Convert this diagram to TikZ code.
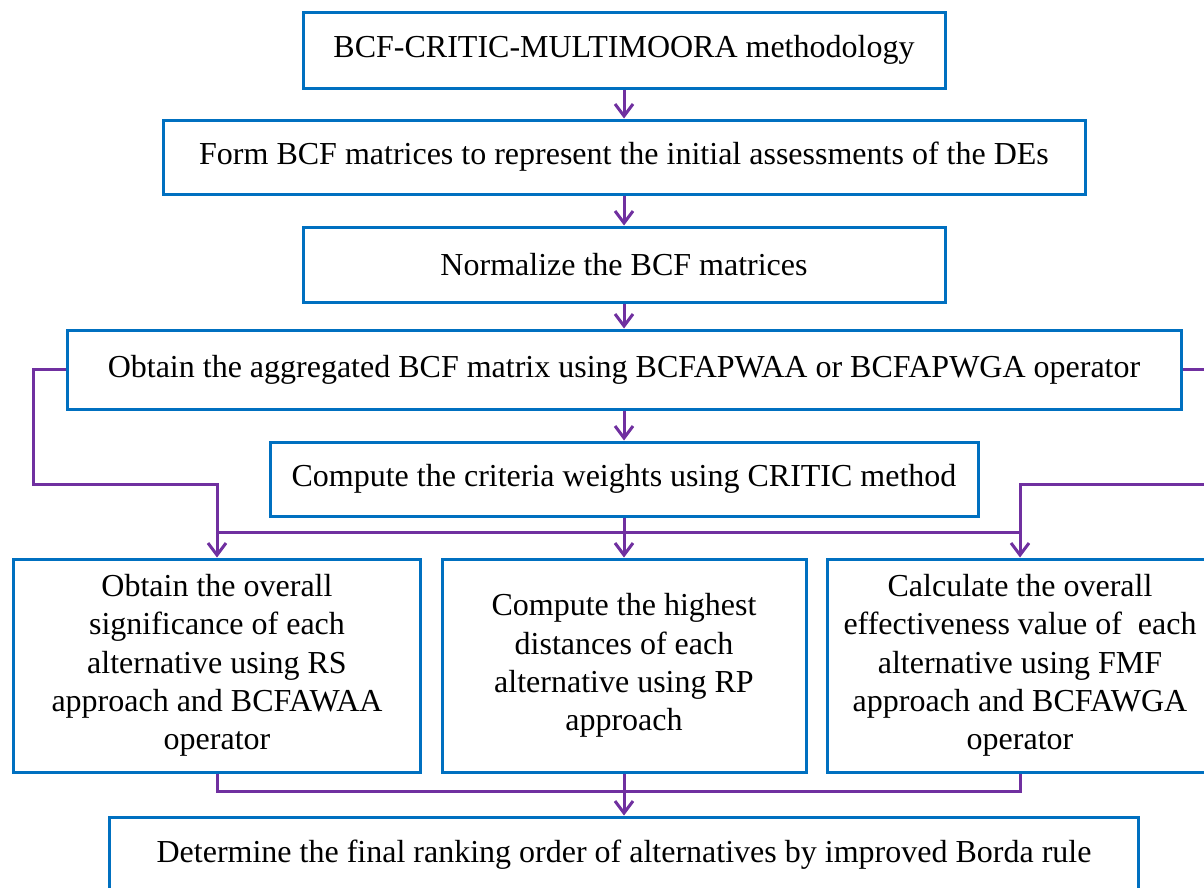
\documentclass[tikz,border=0pt]{standalone}
\usepackage{fontspec}
\setmainfont{Liberation Serif}
\usetikzlibrary{arrows.meta}
\definecolor{boxblue}{HTML}{0070C0}
\definecolor{linkpurple}{HTML}{7030A0}
\tikzset{
  stage/.style={draw=boxblue, line width=3pt, fill=white, align=center,
    inner sep=0pt, font=\fontsize{32}{38.3}\selectfont},
  link/.style={draw=linkpurple, line width=3pt},
  arr/.style={link, -{Straight Barb[length=12pt,width=18pt,line width=3pt]}}
}
\begin{document}
\begin{tikzpicture}[x=1pt,y=-1pt]
  \clip (0,0) rectangle (1204,887);
  \fill[white] (0,0) rectangle (1204,887);

  % main column
  \node[stage, minimum width=642, minimum height=76] (b1) at (624,50)
    {BCF-CRITIC-MULTIMOORA methodology};
  \node[stage, minimum width=922, minimum height=74] (b2) at (624,157)
    {Form BCF matrices to represent the initial assessments of the DEs};
  \node[stage, minimum width=642, minimum height=75] (b3) at (624,264.5)
    {Normalize the BCF matrices};
  \node[stage, minimum width=1114, minimum height=79] (b4) at (624,369.5)
    {Obtain the aggregated BCF matrix using BCFAPWAA or BCFAPWGA operator};
  \node[stage, minimum width=708, minimum height=74] (b5) at (624,479)
    {Compute the criteria weights using CRITIC method};

  % three parallel branches
  \node[stage, minimum width=407, minimum height=213] (b6) at (217,665.5)
    {Obtain the overall\\significance of each\\alternative using RS\\approach and BCFAWAA\\operator};
  \node[stage, minimum width=364, minimum height=213] (b7) at (624,665.5)
    {Compute the highest\\distances of each\\alternative using RP\\approach};
  \node[stage, minimum width=386, minimum height=213] (b8) at (1020,665.5)
    {Calculate the overall\\effectiveness value of~ each\\alternative using FMF\\approach and BCFAWGA\\operator};

  % final ranking
  \node[stage, minimum width=1029, minimum height=76] (b9) at (624,855)
    {Determine the final ranking order of alternatives by improved Borda rule};

  % connectors down the main column
  \draw[arr] (b1) -- (b2);
  \draw[arr] (b2) -- (b3);
  \draw[arr] (b3) -- (b4);
  \draw[arr] (b4) -- (b5);

  % side feeds from the aggregated matrix
  \draw[arr] (b4.west) -- ++(-32,0) |- (b6.north |- 0,484) -- (b6.north);
  \draw[arr] (b4.east) -- ++(45,0) |- (b8.north |- 0,484) -- (b8.north);

  % weights distributed to the branches
  \draw[link] (b6.north |- 0,532) -- (b8.north |- 0,532);
  \draw[arr] (b5) -- (b7);

  % branches merged into the final ranking
  \draw[link] (b6.south) -- (b6.south |- 0,791) -| (b8.south);
  \draw[arr] (b7) -- (b9);
\end{tikzpicture}
\end{document}
